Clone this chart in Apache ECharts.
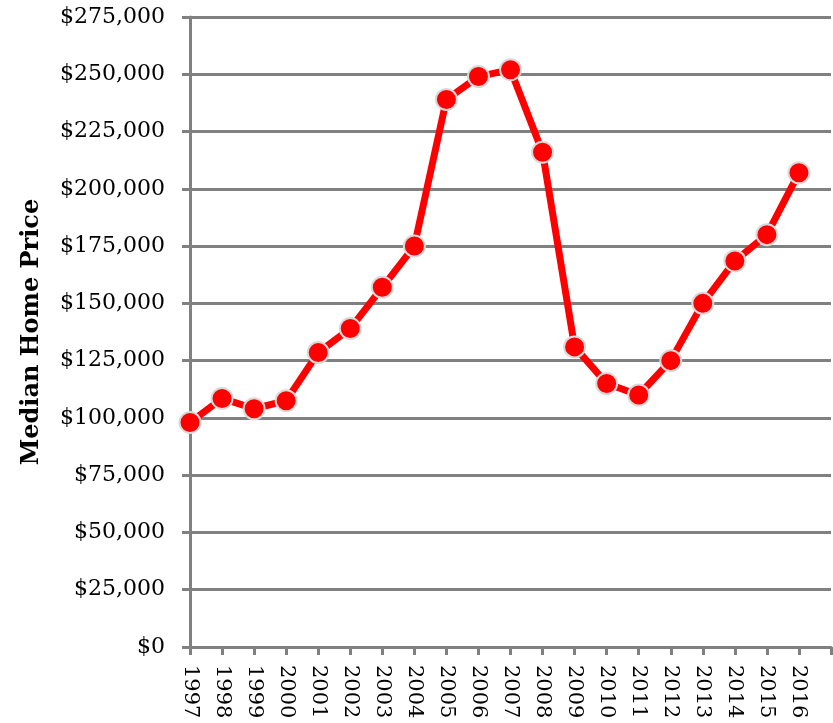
<!DOCTYPE html>
<html>
<head>
<meta charset="utf-8">
<script src="https://cdn.jsdelivr.net/npm/echarts@6/dist/echarts.min.js"></script>
<style>
  html, body { margin: 0; padding: 0; background: #fff; }
  #chart { width: 833px; height: 723px; }
</style>
</head>
<body>
<div id="chart"></div>
<script>
// years on the x axis (last slot is an empty category, as in the original)
var years = ['1997', '1998', '1999', '2000', '2001', '2002', '2003', '2004', '2005', '2006',
  '2007', '2008', '2009', '2010', '2011', '2012', '2013', '2014', '2015', '2016', ''];
// median home price per year
var prices = [98000, 108500, 104000, 107500, 128500, 139000, 157000, 175000, 239000, 249000,
  252000, 216000, 131000, 115000, 110000, 125000, 150000, 168500, 180000, 207000];

var chart = echarts.init(document.getElementById('chart'));

function money(v) {
  return '$' + v.toString().replace(/\B(?=(\d{3})+(?!\d))/g, ',');
}

var option = {
  animation: false,
  textStyle: { fontFamily: 'DejaVu Serif' },
  grid: { left: 190, right: 2, top: 17, bottom: 76 },
  xAxis: {
    type: 'category',
    data: years,
    boundaryGap: false,
    axisLine: { lineStyle: { color: '#808080', width: 3 } },
    axisTick: { show: true, length: 8, lineStyle: { color: '#808080', width: 3 } },
    axisLabel: {
      rotate: -90,
      color: '#000',
      fontSize: 21,
      fontFamily: 'DejaVu Serif',
      margin: 18,
      interval: 0
    },
    splitLine: { show: false }
  },
  yAxis: {
    type: 'value',
    min: 0,
    max: 275000,
    interval: 25000,
    name: 'Median Home Price',
    nameLocation: 'middle',
    nameGap: 146,
    nameTextStyle: { fontSize: 24, fontWeight: 'bold', color: '#000', fontFamily: 'DejaVu Serif' },
    axisLine: { show: true, lineStyle: { color: '#808080', width: 3 } },
    axisTick: { show: true, length: 8, lineStyle: { color: '#808080', width: 3 } },
    axisLabel: {
      color: '#000',
      fontSize: 22,
      fontFamily: 'DejaVu Serif',
      margin: 25,
      formatter: money
    },
    splitLine: { lineStyle: { color: '#808080', width: 3 } }
  },
  series: [{
    type: 'line',
    data: prices,
    symbol: 'circle',
    symbolSize: 21,
    lineStyle: { color: '#ff0000', width: 7 },
    itemStyle: { color: '#ff0000', borderColor: '#d9d9d9', borderWidth: 2 }
  }]
};

chart.setOption(option);
</script>
</body>
</html>
